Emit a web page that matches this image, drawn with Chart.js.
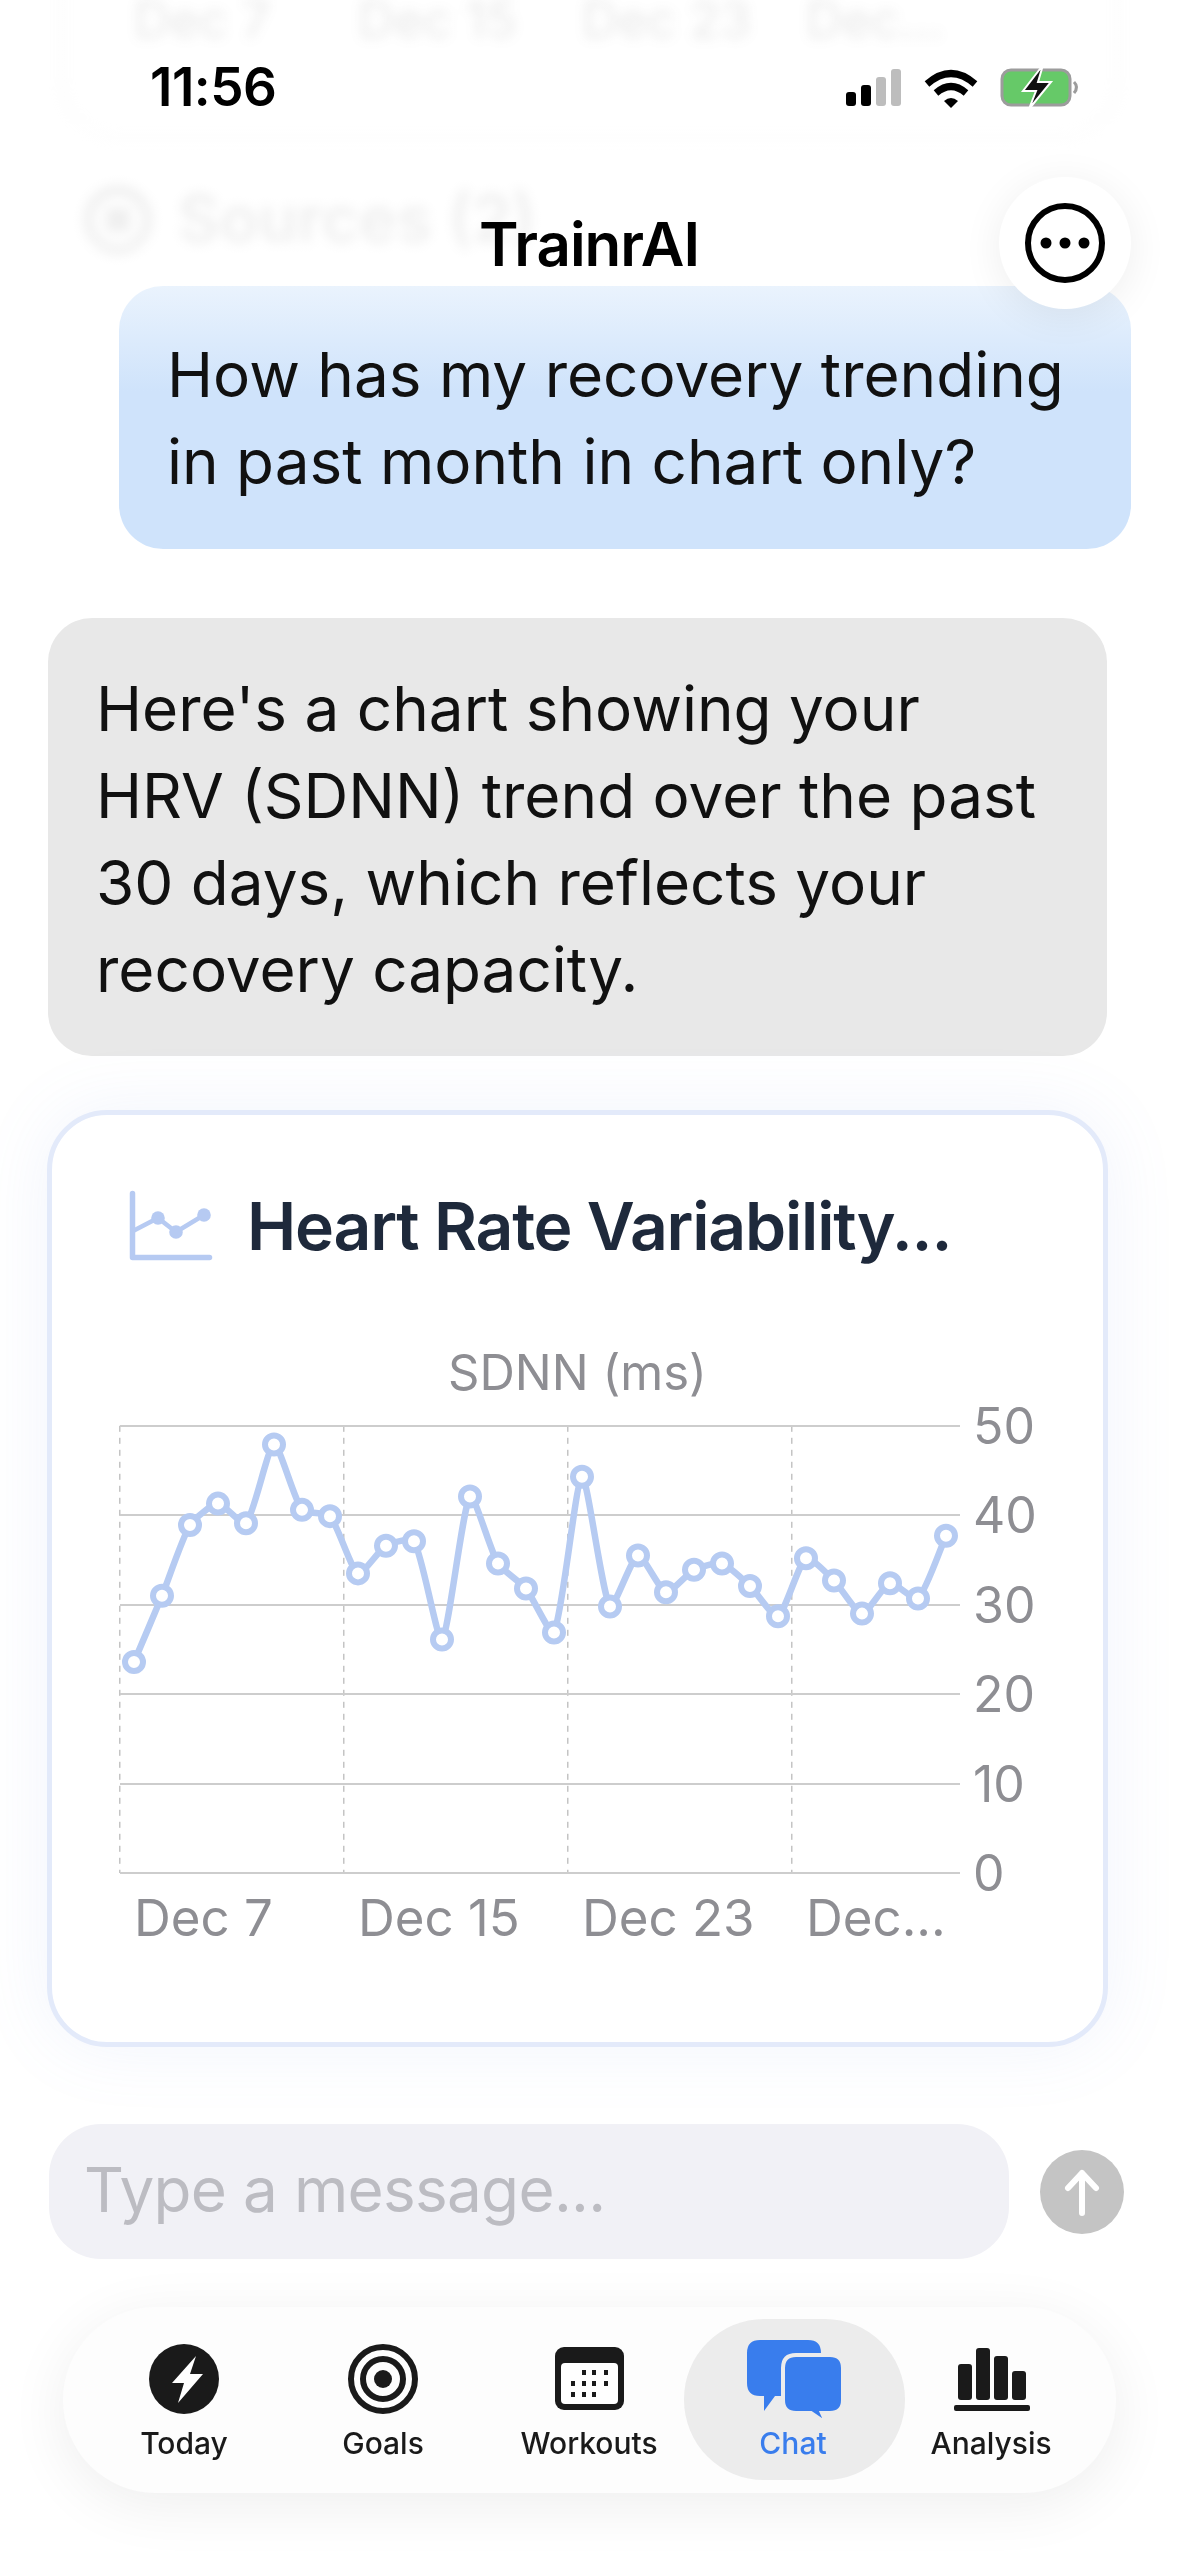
<!DOCTYPE html>
<html>
<head>
<meta charset="utf-8">
<title>TrainrAI</title>
<script src="https://cdn.jsdelivr.net/npm/chart.js@4/dist/chart.umd.min.js"></script>
<style>
html,body{margin:0;padding:0;background:#fff}
body{width:1179px;height:2556px;position:relative;overflow:hidden;font-family:Inter,Roboto,sans-serif;color:#111}
.abs{position:absolute;white-space:nowrap}
.bubble-text{font-size:62px;line-height:87px;letter-spacing:0;color:#111}
#blurred{position:absolute;left:0;top:0;width:1179px;height:320px;filter:blur(6px);opacity:.2;color:#333}
#fade{position:absolute;left:0;top:0;width:1179px;height:330px;background:linear-gradient(rgba(255,255,255,.35) 0,rgba(255,255,255,.65) 75%,rgba(255,255,255,0) 100%)}
#userBubble{position:absolute;left:119px;top:286px;width:1012px;height:263px;border-radius:44px;background:linear-gradient(#eaf3fd 0,#cfe3fb 40%)}
#botBubble{position:absolute;left:48px;top:618px;width:1059px;height:438px;border-radius:44px;background:#e8e8e8}
#card{position:absolute;left:47px;top:1110px;width:1061px;height:937px;box-sizing:border-box;border:5px solid #e3eafa;border-radius:60px;background:#fff;box-shadow:0 0 70px rgba(120,150,230,.1)}
#chartBox{position:absolute;left:100px;top:1340px}
#input{position:absolute;left:49px;top:2124px;width:960px;height:135px;border-radius:52px;background:#f1f1f6}
#send{position:absolute;left:1040px;top:2150px;width:84px;height:84px;border-radius:50%;background:#c4c4c4}
#tabbar{position:absolute;left:63px;top:2307px;width:1053px;height:186px;border-radius:93px;background:#fdfdfd;box-shadow:0 12px 60px rgba(0,0,0,.07)}
#activeTab{position:absolute;left:684px;top:2319px;width:221px;height:161px;border-radius:80px;background:#ececec}
.tab{position:absolute;top:2424px;font-size:30px;line-height:38px;font-weight:500;color:#1a1a1a;transform:translateX(-50%);white-space:nowrap}
svg{position:absolute;overflow:visible}
</style>
</head>
<body>
<div id="blurred">
  <div class="abs" style="left:60px;top:-110px;width:1060px;height:250px;box-sizing:border-box;border:4px solid #e4e4e4;border-radius:60px"></div>
  <div class="abs" style="left:134px;top:2px;font-size:50px;line-height:36px;color:#555">Dec 7</div>
  <div class="abs" style="left:358px;top:2px;font-size:50px;line-height:36px;color:#555">Dec 15</div>
  <div class="abs" style="left:582px;top:2px;font-size:50px;line-height:36px;color:#555">Dec 23</div>
  <div class="abs" style="left:806px;top:2px;font-size:50px;line-height:36px;color:#555">Dec...</div>
  <div class="abs" style="left:178px;top:180px;font-size:64px;font-weight:600">Sources (2)</div>
  <div class="abs" style="left:84px;top:186px;width:68px;height:68px;border-radius:50%;border:9px solid #333;box-sizing:border-box"></div>
  <div class="abs" style="left:106px;top:208px;width:24px;height:24px;background:#333"></div>
</div>
<div id="fade"></div>

<div class="abs" style="left:150px;top:54px;font-size:53px;line-height:66px;font-weight:600;letter-spacing:-.5px;color:#000">11:56</div>
<svg style="left:0;top:0" width="1179" height="140">
  <rect x="846" y="92" width="10" height="14" rx="3" fill="#000"/>
  <rect x="861" y="85" width="10" height="21" rx="3" fill="#000"/>
  <rect x="876" y="77" width="10" height="29" rx="3" fill="#bdbdbd"/>
  <rect x="891" y="69" width="10" height="37" rx="3" fill="#bdbdbd"/>
  <path d="M927 84q24-21 48 0M936 93q15-13 30 0" fill="none" stroke="#000" stroke-width="7"/>
  <path d="M944 101q7-6 14 0l-7 7z" fill="#000"/>
  <rect x="1002" y="70" width="68" height="35" rx="9" fill="#66c968" stroke="#9c9c9c" stroke-width="3"/>
  <path d="M1074 82q5 5 0 11" fill="none" stroke="#9c9c9c" stroke-width="3"/>
  <path d="M1043 65l-20 26h13l-7 18 22-27h-13z" fill="#111" stroke="#fff" stroke-width="2"/>
</svg>

<div class="abs" style="left:589px;top:208px;transform:translateX(-50%);font-size:60px;line-height:72px;font-weight:600;letter-spacing:-1px;color:#000;z-index:3">TrainrAI</div>

<div id="userBubble"></div>
<div class="abs" style="left:999px;top:177px;width:132px;height:132px;border-radius:50%;background:#fff;box-shadow:0 6px 40px rgba(0,0,0,.07);z-index:3"></div>
<svg style="left:0;top:0;z-index:4" width="1179" height="320">
  <circle cx="1065" cy="243" r="37" fill="none" stroke="#000" stroke-width="6"/>
  <circle cx="1046" cy="243" r="5.5"/><circle cx="1065" cy="243" r="5.5"/><circle cx="1084" cy="243" r="5.5"/>
</svg>
<div class="abs bubble-text" style="left:167px;top:331px">How has my recovery trending<br>in past month in chart only?</div>

<div id="botBubble"></div>
<div class="abs bubble-text" style="left:96px;top:665px">Here's a chart showing your<br>HRV (SDNN) trend over the past<br>30 days, which reflects your<br>recovery capacity.</div>

<div id="card"></div>
<svg style="left:0;top:0" width="1179" height="1300">
  <path d="M132.500 1193.500v64h77" fill="none" stroke="#b6caf2" stroke-width="5.500" stroke-linecap="round" stroke-linejoin="round"/>
  <path d="M133 1231l25-13 18 14 28-17" fill="none" stroke="#b6caf2" stroke-width="4.500"/>
  <circle cx="158" cy="1218" r="6.800" fill="#b6caf2"/><circle cx="176" cy="1232" r="6.800" fill="#b6caf2"/><circle cx="204" cy="1215" r="6.800" fill="#b6caf2"/>
</svg>
<div class="abs" style="left:247px;top:1186px;font-size:66px;line-height:80px;font-weight:600;letter-spacing:-1.2px;color:#1e293b">Heart Rate Variability...</div>
<div id="chartBox"><canvas id="grafico" width="935" height="610"></canvas></div>

<div id="input"></div>
<div class="abs" style="left:84px;top:2152px;font-size:62px;line-height:76px;letter-spacing:-.7px;color:#bcbcc2">Type a message...</div>
<div id="send"></div>
<svg style="left:0;top:0" width="1179" height="2400">
  <path d="M1082 2213v-40M1068 2188l14-15 14 15" fill="none" stroke="#fff" stroke-width="6" stroke-linecap="round" stroke-linejoin="round"/>
</svg>

<div id="tabbar"></div>
<div id="activeTab"></div>
<svg style="left:0;top:0" width="1179" height="2556">
  <circle cx="184" cy="2379" r="35" fill="#1a1a1a"/>
  <path d="M196 2356l-24 27h12l-6 20 25-29h-13z" fill="#fff"/>
  <circle cx="383" cy="2379" r="32" fill="none" stroke="#1a1a1a" stroke-width="6"/>
  <circle cx="383" cy="2379" r="20" fill="none" stroke="#1a1a1a" stroke-width="6"/>
  <circle cx="383" cy="2379" r="9" fill="#1a1a1a"/>
  <rect x="555" y="2347" width="69" height="63" rx="9" fill="#1a1a1a"/>
  <rect x="561" y="2363" width="57" height="41" rx="4" fill="#fff"/>
  <g fill="#1a1a1a">
    <rect x="582" y="2370" width="4" height="5"/><rect x="592" y="2370" width="4" height="5"/><rect x="604" y="2370" width="4" height="5"/>
    <rect x="571" y="2381" width="4" height="5"/><rect x="582" y="2381" width="4" height="5"/><rect x="592" y="2381" width="4" height="5"/><rect x="604" y="2381" width="4" height="5"/>
    <rect x="571" y="2392" width="4" height="5"/><rect x="582" y="2392" width="4" height="5"/><rect x="592" y="2392" width="4" height="5"/>
  </g>
  <path d="M760 2340h48q13 0 13 13v30q0 13-13 13h-33l-11 15v-15h-4q-13 0-13-13v-30q0-13 13-13z" fill="#397ded"/>
  <path d="M796 2355h34q13 0 13 13v32q0 13-13 13h-8l5 11-16-11h-15q-13 0-13-13v-32q0-13 13-13z" fill="#397ded" stroke="#ececec" stroke-width="4"/>
  <g fill="#1a1a1a">
    <rect x="958" y="2364" width="14" height="36" rx="3"/>
    <rect x="976" y="2348" width="14" height="52" rx="3"/>
    <rect x="994" y="2356" width="14" height="44" rx="3"/>
    <rect x="1012" y="2371" width="14" height="29" rx="3"/>
    <rect x="954" y="2405" width="76" height="6" rx="2"/>
  </g>
</svg>
<div class="tab" style="left:184px">Today</div>
<div class="tab" style="left:383px">Goals</div>
<div class="tab" style="left:589px">Workouts</div>
<div class="tab" style="left:793px;color:#397ded">Chat</div>
<div class="tab" style="left:991px">Analysis</div>

<script>
const fechas = ["Dec 7","Dec 8","Dec 9","Dec 10","Dec 11","Dec 12","Dec 13","Dec 14","Dec 15","Dec 16","Dec 17","Dec 18","Dec 19","Dec 20","Dec 21","Dec 22","Dec 23","Dec 24","Dec 25","Dec 26","Dec 27","Dec 28","Dec 29","Dec 30","Dec...","Jan 1","Jan 2","Jan 3","Jan 4","Jan 5"]
const sdnn = [23.6,31.0,38.9,41.3,39.1,47.9,40.6,39.9,33.5,36.6,37.1,26.1,42.1,34.6,31.8,26.9,44.3,29.8,35.5,31.4,33.9,34.6,32.1,28.7,35.2,32.7,29.0,32.4,30.7,37.7]
const colorLinea = "#b6cbf2"
const gris = "#8e8e93"
const cadaCuantos = 8

let grafico = document.getElementById("grafico")

let miGrafico = new Chart(grafico, {
    type: "line",
    data: {
        labels: fechas,
        datasets: [{
            label: "SDNN (ms)",
            data: sdnn,
            borderColor: colorLinea,
            borderWidth: 6.5,
            backgroundColor: "#fff",
            pointBackgroundColor: "#fff",
            pointBorderColor: colorLinea,
            pointBorderWidth: 6,
            pointRadius: 9,
            tension: 0.2
        }]
    },
    options: {
        responsive: false,
        devicePixelRatio: 1,
        animation: false,
        layout: { padding: { left: 20, right: 0, top: 0, bottom: 0 } },
        plugins: {
            legend: { display: false },
            tooltip: { enabled: false },
            title: {
                display: true,
                text: "SDNN (ms)",
                color: gris,
                font: { family: "Inter", size: 49, weight: "400" },
                padding: { top: 6, bottom: 21 }
            }
        },
        scales: {
            x: {
                offset: true,
                afterFit: axis => { axis.height = 77 },
                grid: {
                    offset: true,
                    drawTicks: false,
                    lineWidth: 1.5,
                    color: ctx => ctx.index % cadaCuantos === 0 ? "#c4c4c4" : "transparent"
                },
                border: { display: false, dash: [6, 6] },
                ticks: {
                    autoSkip: false,
                    maxRotation: 0,
                    align: "start",
                    padding: 17,
                    color: gris,
                    font: { family: "Inter", size: 51 },
                    callback: function (v, i) { return i % cadaCuantos === 0 ? this.getLabelForValue(v) : "" }
                }
            },
            y: {
                position: "right",
                min: 0,
                max: 50,
                afterFit: axis => { axis.width = 75 },
                grid: { drawTicks: false, lineWidth: 2, color: "#cdcdcd" },
                border: { display: false },
                ticks: {
                    stepSize: 10,
                    padding: 13,
                    labelOffset: 3,
                    color: gris,
                    font: { family: "Inter", size: 50 }
                }
            }
        }
    }
})
</script>
</body>
</html>
